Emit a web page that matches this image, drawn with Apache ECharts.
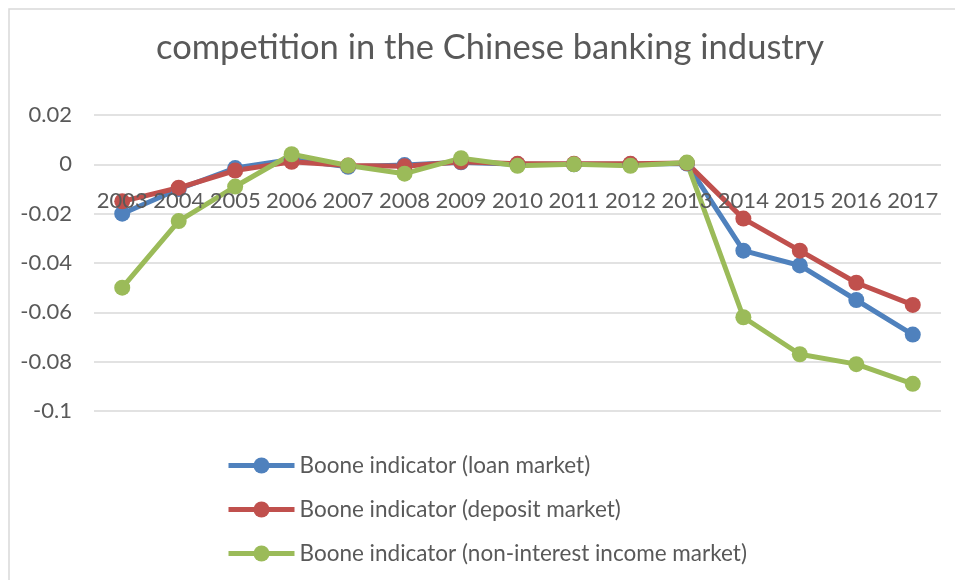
<!DOCTYPE html>
<html>
<head>
<meta charset="utf-8">
<script src="https://cdn.jsdelivr.net/npm/echarts@6/dist/echarts.min.js"></script>
<style>html,body{margin:0;padding:0;background:#fff}#c{width:955px;height:580px}</style>
</head>
<body>
<div id="c"></div>
<script>
const years = ['2003','2004','2005','2006','2007','2008','2009','2010','2011','2012','2013','2014','2015','2016','2017'];
const loanMarket = [-0.020, -0.010, -0.0015, 0.002, -0.001, -0.0003, 0.0008, 0, 0, 0, 0.0003, -0.035, -0.041, -0.055, -0.069];
const depositMarket = [-0.015, -0.0095, -0.0025, 0.001, -0.0005, -0.0008, 0.001, 0.0002, 0.0002, 0.0002, 0.0005, -0.022, -0.035, -0.048, -0.057];
const nonInterestMarket = [-0.050, -0.023, -0.009, 0.0041, -0.0005, -0.0038, 0.0025, -0.0006, 0, -0.0006, 0.0007, -0.062, -0.077, -0.081, -0.089];
const seriesNames = ['Boone indicator (loan market)', 'Boone indicator (deposit market)', 'Boone indicator (non-interest income market)'];
const yMin = -0.1, yMax = 0.02, yStep = 0.02;

const FONT = 'Lato';
const colors = ['#4F81BD', '#C0504D', '#9BBB59'];
const GRID_TOP = 115, GRID_BOTTOM = 169, H = 580;
const gridH = H - GRID_TOP - GRID_BOTTOM;
// put the category axis where the value axis crosses zero
const zeroOffset = -gridH * (0 - yMin) / (yMax - yMin);

const chart = echarts.init(document.getElementById('c'));
function mk(name, data, color) {
  return {
    name: name, type: 'line', data: data,
    symbol: 'circle', symbolSize: 16,
    lineStyle: {width: 5, color: color},
    itemStyle: {color: color},
    emphasis: {disabled: true}
  };
}
chart.setOption({
  animation: false,
  color: colors,
  graphic: [{
    type: 'rect', shape: {x: 9, y: 9, width: 980, height: 600},
    style: {fill: 'none', stroke: '#d9d9d9', lineWidth: 1.5}, z: -10
  }],
  title: {
    text: 'competition in the Chinese banking industry',
    left: 151, top: 25,
    textStyle: {fontFamily: FONT, fontSize: 34.5, fontWeight: 'normal', color: '#595959'}
  },
  legend: {
    orient: 'vertical', left: 221, top: 449,
    itemWidth: 66, itemHeight: 20, itemGap: 21,
    lineStyle: {width: 5},
    textStyle: {fontFamily: FONT, fontSize: 22.5, color: '#595959'},
    data: seriesNames
  },
  grid: {left: 94, right: 14, top: GRID_TOP, bottom: GRID_BOTTOM, containLabel: false},
  xAxis: {
    type: 'category', data: years, boundaryGap: true,
    position: 'bottom', offset: zeroOffset, zlevel: 1, z: 10,
    axisLine: {show: false, onZero: false},
    axisTick: {show: false},
    axisLabel: {interval: 0, fontFamily: FONT, fontSize: 22, color: '#595959', margin: 26}
  },
  yAxis: {
    type: 'value', min: yMin, max: yMax, interval: yStep,
    axisLine: {show: false}, axisTick: {show: false},
    splitLine: {lineStyle: {color: '#d9d9d9', width: 1.5}},
    axisLabel: {fontFamily: FONT, fontSize: 22, color: '#595959', margin: 22,
      formatter: function (v) { return String(Math.round(v * 100) / 100); }}
  },
  series: [
    mk(seriesNames[0], loanMarket, colors[0]),
    mk(seriesNames[1], depositMarket, colors[1]),
    mk(seriesNames[2], nonInterestMarket, colors[2])
  ]
});
</script>
</body>
</html>
